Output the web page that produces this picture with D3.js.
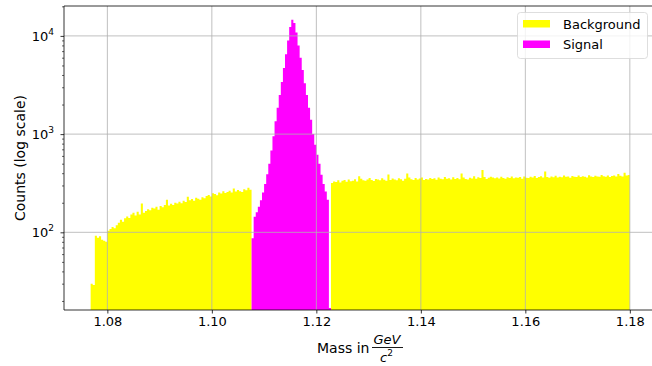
<!DOCTYPE html>
<html>
<head>
<meta charset="utf-8">
<script src="https://cdn.jsdelivr.net/npm/d3@7"></script>
<style>
  html, body { margin: 0; padding: 0; background: #fff; }
  svg { display: block; font-family: "DejaVu Sans", sans-serif; }
</style>
</head>
<body>
<svg id="chart" width="652" height="366"></svg>
<script>
// ---------------- DATA ----------------
const binStart = 1.0768;   // left edge of first bin (GeV/c^2)
const binWidth = 0.0004;   // bin width

// Background counts, bins 0..76
const bgLeft = [
  30, 29,
  92, 88, 91, 84, 82, 80,
  104, 108, 113, 110,
  118, 125, 134, 128, 139,
  145, 140, 152, 158, 148, 162, 152, 196, 158,
  165, 172, 168, 178, 175, 182, 170, 185, 180, 190,
  215, 188, 195, 190, 200, 196, 205, 198, 210, 203,
  230, 212, 218, 210, 225, 220, 215, 228, 222, 235,
  240, 232, 250, 245, 238, 255, 248, 262, 252, 258,
  265, 255, 280, 260, 270, 262, 258, 275, 268, 285, 272
];
const bgLeftOffset = 0;

// Signal counts, bins 77..114
const signal = [
  87, 144, 160, 182, 212, 255, 310, 390, 500, 680,
  950, 1350, 1850, 2500, 3400, 4700, 6500, 9000, 12300, 14600,
  13500, 10800, 8000, 6000, 4500, 3300, 2500, 1850, 1400, 1000,
  780, 615, 500, 385, 310, 260, 215, 17
];
const signalOffset = 77;

// Background counts, bins 115..257
const bgRight = [
  318, 330, 325, 338, 322, 335, 340, 328, 345, 332,
  336, 348, 330, 372, 352, 338, 335, 346, 358, 340,
  333, 350, 344, 338, 356, 342, 336, 388, 340, 353,
  345, 339, 356, 347, 335, 352, 398, 361, 348, 341,
  357, 346, 353, 362, 340, 350, 344, 358, 349, 355,
  342, 361, 352, 347, 366, 351, 356, 345, 363, 350,
  358, 347, 396, 362, 349, 346, 360, 354, 372, 351,
  364, 357, 431, 366, 350, 359, 368, 362, 355, 361,
  353, 368, 358, 351, 364, 357, 370, 355, 362, 359,
  366, 352, 371, 360, 357, 368, 362, 375, 358, 365,
  372, 361, 415, 366, 359, 370, 364, 376, 361, 369,
  363, 378, 367, 371, 360, 374, 368, 365, 379, 366,
  372, 369, 362, 381, 370, 366, 376, 371, 368, 383,
  372, 369, 378, 365, 374, 380, 371, 392, 376, 370, 405, 379, 384
];
const bgRightOffset = 115;

const xTicks = [1.08, 1.10, 1.12, 1.14, 1.16, 1.18];
const yMajorTicks = [100, 1000, 10000];
const yTickExponents = ["2", "3", "4"];
const xDomain = [1.0717, 1.1852];
const yDomain = [16.18, 20160];

const seriesNames = ["Background", "Signal"];
const seriesColors = ["#ffff00", "#ff00ff"];

// ---------------- CHART ----------------
const svg = d3.select("#chart");
const L = 64, T = 6, B = 310, R = 657;

const x = d3.scaleLinear().domain(xDomain).range([L, R]);
const y = d3.scaleLog().domain(yDomain).range([B, T]);

svg.append("defs").append("clipPath").attr("id", "clip")
  .append("rect").attr("x", L).attr("y", T).attr("width", R - L).attr("height", B - T);

function toBins(vals, offset) {
  return vals.map((v, i) => {
    const x0 = binStart + (offset + i) * binWidth;
    return { x0: x0, x1: x0 + binWidth, v: v };
  });
}

function stepPath(bins) {
  const pts = [];
  bins.forEach(b => { pts.push([b.x0, b.v]); pts.push([b.x1, b.v]); });
  const area = d3.area()
    .x(d => x(d[0]))
    .y0(y(yDomain[0]))
    .y1(d => y(d[1]));
  return area(pts);
}

const plot = svg.append("g").attr("clip-path", "url(#clip)");

plot.append("path").attr("d", stepPath(toBins(bgLeft, bgLeftOffset))).attr("fill", seriesColors[0]);
plot.append("path").attr("d", stepPath(toBins(bgRight, bgRightOffset))).attr("fill", seriesColors[0]);
plot.append("path").attr("d", stepPath(toBins(signal, signalOffset))).attr("fill", seriesColors[1]);

// grid (drawn above bars)
const grid = svg.append("g").attr("clip-path", "url(#clip)");
grid.selectAll("line.vx").data(xTicks).enter().append("line")
  .attr("x1", d => x(d)).attr("x2", d => x(d)).attr("y1", T).attr("y2", B)
  .attr("stroke", "#b0b0b0").attr("stroke-width", 0.8);
grid.selectAll("line.hy").data(yMajorTicks).enter().append("line")
  .attr("x1", L).attr("x2", R).attr("y1", d => y(d)).attr("y2", d => y(d))
  .attr("stroke", "#b0b0b0").attr("stroke-width", 0.8);

// spines
svg.append("line").attr("x1", L).attr("x2", L).attr("y1", T).attr("y2", B).attr("stroke", "#000").attr("stroke-width", 0.8);
svg.append("line").attr("x1", L).attr("x2", R).attr("y1", B).attr("y2", B).attr("stroke", "#000").attr("stroke-width", 0.8);
svg.append("line").attr("x1", L).attr("x2", R).attr("y1", T).attr("y2", T).attr("stroke", "#000").attr("stroke-width", 0.8);
svg.append("line").attr("x1", R).attr("x2", R).attr("y1", T).attr("y2", B).attr("stroke", "#000").attr("stroke-width", 0.8);

// x axis
const xAxis = d3.axisBottom(x).tickValues(xTicks).tickFormat(d3.format(".2f"))
  .tickSize(3.5).tickPadding(3.5);
const gx = svg.append("g").attr("transform", `translate(0,${B})`).call(xAxis);
gx.select(".domain").remove();
gx.selectAll("line").attr("stroke", "#000").attr("stroke-width", 0.8);
gx.selectAll("text").attr("font-size", 13).attr("fill", "#000")
  .attr("font-family", "DejaVu Sans, sans-serif");

// y axis: major + minor ticks
const minorTicks = [];
[10, 100, 1000, 10000].forEach(p => {
  for (let m = 2; m <= 9; m++) {
    const v = m * p;
    if (v >= yDomain[0] && v <= yDomain[1]) minorTicks.push(v);
  }
});
const yAxisMinor = d3.axisLeft(y).tickValues(minorTicks).tickFormat("").tickSize(2);
const gym = svg.append("g").attr("transform", `translate(${L},0)`).call(yAxisMinor);
gym.select(".domain").remove();
gym.selectAll("line").attr("stroke", "#000").attr("stroke-width", 0.6);

const yAxis = d3.axisLeft(y).tickValues(yMajorTicks).tickFormat("").tickSize(3.5);
const gy = svg.append("g").attr("transform", `translate(${L},0)`).call(yAxis);
gy.select(".domain").remove();
gy.selectAll("line").attr("stroke", "#000").attr("stroke-width", 0.8);

const yl = svg.append("g").selectAll("text").data(yMajorTicks).enter().append("text")
  .attr("x", L - 10).attr("y", d => y(d) + 5)
  .attr("text-anchor", "end").attr("font-size", 13).attr("fill", "#000");
yl.append("tspan").text("10");
yl.append("tspan").attr("dy", -6).attr("font-size", 9).text((d, i) => yTickExponents[i]);

// axis labels
svg.append("text")
  .attr("transform", `translate(25,${(T + B) / 2}) rotate(-90)`)
  .attr("text-anchor", "middle").attr("font-size", 14).attr("fill", "#000")
  .text("Counts (log scale)");

const xl = svg.append("g");
xl.append("text").attr("x", 317).attr("y", 353).attr("font-size", 14).attr("fill", "#000").text("Mass in");
xl.append("text").attr("x", 387).attr("y", 344).attr("text-anchor", "middle")
  .attr("font-size", 13).attr("font-style", "italic").attr("fill", "#000").text("GeV");
xl.append("line").attr("x1", 372).attr("x2", 403).attr("y1", 347.5).attr("y2", 347.5)
  .attr("stroke", "#000").attr("stroke-width", 0.9);
const den = xl.append("text").attr("x", 380).attr("y", 362).attr("font-size", 13)
  .attr("font-style", "italic").attr("fill", "#000");
den.append("tspan").text("c");
den.append("tspan").attr("dy", -6).attr("font-size", 9).attr("font-style", "normal").text("2");

// legend
const lg = svg.append("g");
lg.append("rect").attr("x", 517.5).attr("y", 12.5).attr("width", 130).attr("height", 46)
  .attr("rx", 3).attr("fill", "#fff").attr("fill-opacity", 0.8)
  .attr("stroke", "#d6d6d6").attr("stroke-width", 0.8);
const items = lg.selectAll("g.item").data(seriesNames).enter().append("g")
  .attr("transform", (d, i) => `translate(523,${20 + i * 20.5})`);
items.append("rect").attr("x", 0).attr("y", 0).attr("width", 27).attr("height", 7.5)
  .attr("fill", (d, i) => seriesColors[i]);
items.append("text").attr("x", 40).attr("y", 8.5).attr("font-size", 13).attr("fill", "#000")
  .text(d => d);
</script>
</body>
</html>
